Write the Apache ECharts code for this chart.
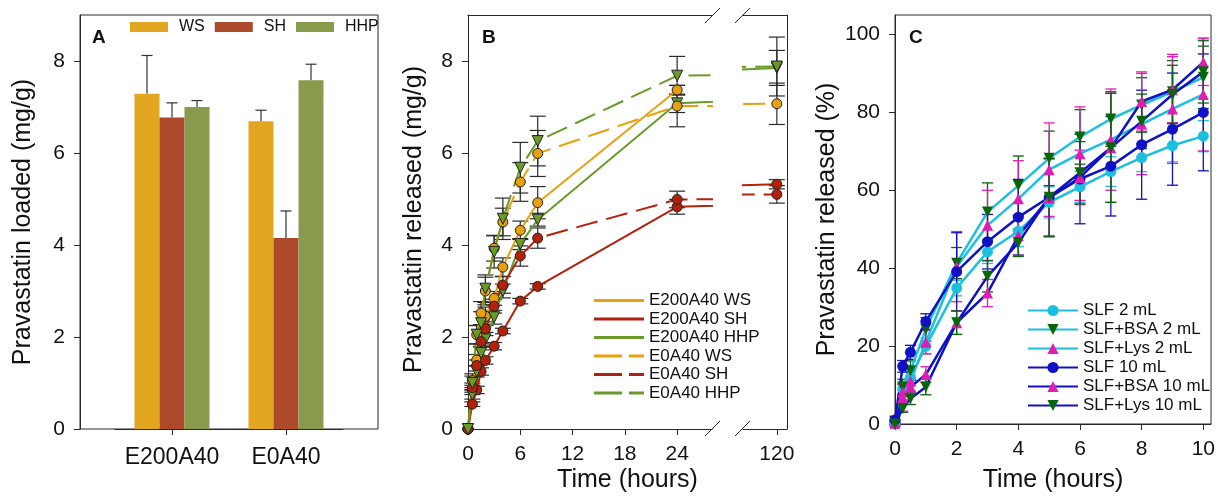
<!DOCTYPE html>
<html lang="en">
<head>
<meta charset="UTF-8">
<title>Pravastatin loading and release</title>
<style>
    *{
        margin: 0;
        padding: 0;
    }
    body{
        background-color: #fff;
    }
    #chart{
        width: 1218px;
        height: 498px;
    }
</style>
</head>
<body>
<div id="chart"></div>
<script src="https://cdn.jsdelivr.net/npm/echarts@6.0.0/dist/echarts.min.js"></script>
<script type="text/javascript">
// ---- panel A : pravastatin loaded (mg/g)
var loadCats = ['E200A40', 'E0A40']
var loadNames = ['WS', 'SH', 'HHP']
var loadWS = [7.29, 6.69]
var loadSH = [6.77, 4.15]
var loadHHP = [7.0, 7.58]
var loadWSErr = [0.83, 0.24]
var loadSHErr = [0.32, 0.59]
var loadHHPErr = [0.14, 0.35]
var loadTicks = [0, 2, 4, 6, 8]

// ---- panel B : pravastatin released (mg/g), broken time axis
var relTime = [0, 0.5, 1, 1.5, 2, 3, 4, 6, 8, 24, 120]
var relTicksLeft = [0, 6, 12, 18, 24]
var relTicksRight = [120]
var relYTicks = [0, 2, 4, 6, 8]
var e200WS = [0, 0.85, 1.5, 2.0, 2.45, 2.84, 3.52, 4.32, 4.92, 7.37, null]
var e200SH = [0, 0.54, 0.85, 1.25, 1.49, 1.80, 2.13, 2.78, 3.10, 4.83, 5.32]
var e200HHP = [0, 0.75, 1.25, 1.65, 1.95, 2.43, 3.0, 4.02, 4.55, 7.08, 7.85]
var e0WS = [0, 1.05, 2.05, 2.52, 3.0, 3.93, 4.5, 5.37, 5.99, 7.02, 7.07]
var e0SH = [0, 0.9, 1.38, 1.9, 2.18, 2.67, 3.13, 3.76, 4.15, 4.99, 5.1]
var e0HHP = [0, 1.0, 2.05, 2.3, 3.05, 3.85, 4.57, 5.68, 6.26, 7.68, 7.88]
var e200WSErr = [0, 0.1, 0.12, 0.15, 0.2, 0.15, 0.2, 0.2, 0.35, 0.1, 0]
var e200SHErr = [0, 0.05, 0.08, 0.08, 0.08, 0.08, 0.06, 0.06, 0.06, 0.16, 0.1]
var e200HHPErr = [0, 0.1, 0.12, 0.15, 0.15, 0.15, 0.15, 0.12, 0.14, 0.2, 0.38]
var e0WSErr = [0, 0.15, 0.2, 0.25, 0.3, 0.28, 0.3, 0.42, 0.5, 0.45, 0.45]
var e0SHErr = [0, 0.1, 0.12, 0.12, 0.15, 0.15, 0.18, 0.22, 0.22, 0.18, 0.19]
var e0HHPErr = [0, 0.15, 0.2, 0.25, 0.3, 0.35, 0.45, 0.55, 0.54, 0.42, 0.64]

// ---- panel C : pravastatin released (%)
var cTime = [0, 0.25, 0.5, 1, 2, 3, 4, 5, 6, 7, 8, 9, 10]
var cXTicks = [0, 2, 4, 6, 8, 10]
var cYTicks = [0, 20, 40, 60, 80, 100]
var slf2 = [0, 9, 12, 20, 34.9, 44.2, 49.5, 56.9, 60.9, 64.8, 68.4, 71.5, 73.9]
var bsa2 = [0.5, 9.5, 13.7, 24.3, 41.3, 54.4, 61.2, 68.2, 73.7, 78.3, 81.9, 85.3, 89.0]
var lys2 = [0.3, 8.2, 11, 21, 40.4, 51.0, 57.8, 65.3, 69.4, 73.0, 77.0, 80.9, 84.6]
var slf10 = [1, 14.8, 18.4, 26.3, 39.1, 46.8, 53.1, 58.2, 62.9, 66.2, 71.7, 75.7, 80.0]
var bsa10 = [0.2, 6.8, 9.5, 12.7, 26, 33.6, 48.3, 58, 63.3, 70.9, 82.8, 85.8, 92.9]
var lys10 = [0, 4.0, 6.5, 9.5, 26, 37.9, 46.5, 58.2, 64.5, 70.9, 77.7, 84.6, 90.4]
var slf2Err = [0.5, 1.5, 2, 2, 2, 3, 4, 4, 4, 3.8, 3.6, 4.2, 4]
var bsa2Err = [0.5, 2, 2.5, 3, 4, 7.5, 7.6, 7, 7, 7, 7, 8, 8]
var lys2Err = [0.5, 2, 2.5, 3, 9, 9, 9.8, 12, 12, 13, 13, 14, 14.5]
var slf10Err = [1, 1.5, 1.8, 2, 10, 7, 9.7, 10, 11.5, 12.8, 14, 14.4, 15]
var bsa10Err = [0.5, 3.5, 2, 2, 3, 3.5, 5, 10, 7, 14, 7.6, 8.5, 6]
var lys10Err = [0.5, 1, 1.5, 2, 3, 4, 3.5, 10, 8, 14, 7, 7.5, 8]

var FONT = '"Liberation Sans", Arial, sans-serif'
var AX = '#2a2a2a'

var orange = '#E8A00E', red = '#B3200C', green = '#6A9A28'
var cyan = '#1DBFDF', blue = '#1010C4', dkgreen = '#07650A', magenta = '#E01DB3'

// error bar drawer (custom series)
function errSeries(data, xIdx, yIdx, color, half, upOnly, offset, width) {
    return {
        type: 'custom',
        xAxisIndex: xIdx,
        yAxisIndex: yIdx,
        data: data,
        z: 2,
        silent: true,
        renderItem: function (params, api) {
            var e = api.value(2)
            if (!(e > 0)) return null
            var p0 = api.coord([api.value(0), api.value(1)])
            var pt = api.coord([api.value(0), api.value(1) + e])
            var pb = api.coord([api.value(0), api.value(1) - e])
            var x = p0[0] + offset
            var st = {stroke: color, lineWidth: width}
            var kids = [
                {type: 'line', shape: {x1: x, y1: upOnly ? p0[1] : pb[1], x2: x, y2: pt[1]}, style: st},
                {type: 'line', shape: {x1: x - half, y1: pt[1], x2: x + half, y2: pt[1]}, style: st}
            ]
            if (!upOnly) {
                kids.push({type: 'line', shape: {x1: x - half, y1: pb[1], x2: x + half, y2: pb[1]}, style: st})
            }
            return {type: 'group', children: kids}
        }
    }
}

function pairs(ts, vals, errs, test) {
    var out = []
    ts.forEach(function (t, i) {
        if (vals[i] === null) return
        if (test && !test(t)) return
        out.push(errs ? [t, vals[i], errs[i]] : [t, vals[i]])
    })
    return out
}

var series = []

// panel A bars
var loadVals = [loadWS, loadSH, loadHHP]
var loadErrs = [loadWSErr, loadSHErr, loadHHPErr]
var loadColors = ['#E2A620', '#AD4A2B', '#889A4C']
loadNames.forEach(function (n, k) {
    series.push({
        type: 'bar', name: n, xAxisIndex: 1, yAxisIndex: 1,
        data: loadVals[k], barWidth: 25, barGap: '0%',
        itemStyle: {color: loadColors[k]}, z: 2
    })
})
loadNames.forEach(function (n, k) {
    var d = loadVals[k].map(function (v, i) { return [i, v, loadErrs[k][i]] })
    series.push(errSeries(d, 1, 1, '#333', 5.5, true, (k - 1) * 25, 1.2))
})

// panel B lines, drawn in the left and the right piece of the broken axis
var bList = [
    {name: 'E200A40 WS', v: e200WS, e: e200WSErr, c: orange, dash: false, sym: 'circle'},
    {name: 'E200A40 SH', v: e200SH, e: e200SHErr, c: red, dash: false, sym: 'circle'},
    {name: 'E200A40 HHP', v: e200HHP, e: e200HHPErr, c: green, dash: false, sym: 'triangle'},
    {name: 'E0A40 WS', v: e0WS, e: e0WSErr, c: orange, dash: true, sym: 'circle'},
    {name: 'E0A40 SH', v: e0SH, e: e0SHErr, c: red, dash: true, sym: 'circle'},
    {name: 'E0A40 HHP', v: e0HHP, e: e0HHPErr, c: green, dash: true, sym: 'triangle'}
]
var pieces = [
    {x: 3, y: 3, test: function (t) { return t <= 28 }},
    {x: 5, y: 4, test: function (t) { return t >= 116 }}
]
pieces.forEach(function (p) {
    bList.forEach(function (s) {
        series.push(errSeries(pairs(relTime, s.v, s.e, p.test), p.x, p.y, '#2b2b2b', 8, false, 0, 1.2))
    })
    bList.forEach(function (s) {
        series.push({
            type: 'line', name: s.name, xAxisIndex: p.x, yAxisIndex: p.y,
            data: pairs(relTime, s.v),
            clip: true,
            symbol: s.sym,
            symbolSize: s.sym === 'triangle' ? 11 : 10,
            symbolRotate: s.sym === 'triangle' ? 180 : 0,
            lineStyle: {color: s.c, width: 2, type: s.dash ? [22, 9] : 'solid'},
            itemStyle: {color: s.c, borderColor: '#222', borderWidth: 1},
            z: 3
        })
    })
})

// panel C lines
var cList = [
    {name: 'SLF 2 mL', v: slf2, e: slf2Err, line: cyan, mk: cyan, sym: 'circle', rot: 0},
    {name: 'SLF+BSA 2 mL', v: bsa2, e: bsa2Err, line: cyan, mk: dkgreen, sym: 'triangle', rot: 180},
    {name: 'SLF+Lys 2 mL', v: lys2, e: lys2Err, line: cyan, mk: magenta, sym: 'triangle', rot: 0},
    {name: 'SLF 10 mL', v: slf10, e: slf10Err, line: blue, mk: blue, sym: 'circle', rot: 0},
    {name: 'SLF+BSA 10 mL', v: bsa10, e: bsa10Err, line: blue, mk: magenta, sym: 'triangle', rot: 0},
    {name: 'SLF+Lys 10 mL', v: lys10, e: lys10Err, line: blue, mk: dkgreen, sym: 'triangle', rot: 180}
]
cList.forEach(function (s) {
    series.push(errSeries(pairs(cTime, s.v, s.e), 7, 5, s.mk, 5.5, false, 0, 1.3))
})
cList.forEach(function (s) {
    series.push({
        type: 'line', name: s.name, xAxisIndex: 7, yAxisIndex: 5,
        data: pairs(cTime, s.v),
        symbol: s.sym, symbolSize: 11, symbolRotate: s.rot,
        lineStyle: {color: s.line, width: 2.5},
        itemStyle: {color: s.mk},
        z: 3
    })
})

var tickLbl = {color: '#111', fontSize: 21, fontFamily: FONT}
var nameTxt = {color: '#111', fontSize: 25, fontFamily: FONT}
var hidden = {axisLine: {show: false}, axisTick: {show: false}, axisLabel: {show: false}, splitLine: {show: false}}

function frameAxis(extra) {
    var o = {
        type: 'value',
        axisLine: {show: true, lineStyle: {color: AX, width: 1}},
        splitLine: {show: false},
        axisTick: {show: true, inside: false, length: 6, lineStyle: {color: AX}},
        axisLabel: {show: true}
    }
    for (var k in extra) o[k] = extra[k]
    return o
}

var options = {
    animation: false,
    backgroundColor: '#fff',
    textStyle: {fontFamily: FONT},
    title: [
        {text: 'A', left: 92, top: 28, padding: 0, textStyle: {fontSize: 19, fontWeight: 'bold', color: '#111', fontFamily: FONT}},
        {text: 'B', left: 482, top: 28, padding: 0, textStyle: {fontSize: 19, fontWeight: 'bold', color: '#111', fontFamily: FONT}},
        {text: 'C', left: 909, top: 28, padding: 0, textStyle: {fontSize: 19, fontWeight: 'bold', color: '#111', fontFamily: FONT}}
    ],
    legend: [
        {
            data: loadNames, left: 125, top: 14, orient: 'horizontal',
            icon: 'rect', itemWidth: 38, itemHeight: 10, itemGap: 10,
            itemStyle: {borderWidth: 0},
            textStyle: {fontSize: 16, color: '#111', padding: [0, 0, 0, 6]}
        },
        {
            data: bList.map(function (s) {
                return {name: s.name, icon: s.dash ? 'path://M0,0H28V3H0ZM35,0H50V3H35Z' : 'rect'}
            }),
            left: 589, top: 287, orient: 'vertical',
            itemWidth: 50, itemHeight: 3, itemGap: 1.5,
            itemStyle: {borderWidth: 0},
            textStyle: {fontSize: 17, color: '#111'}
        },
        {
            data: cList.map(function (s) { return s.name }),
            left: 1022, top: 297, orient: 'vertical',
            itemWidth: 50, itemHeight: 14, itemGap: 2,
            textStyle: {fontSize: 17, color: '#111'}
        }
    ],
    grid: [
        {left: 80, top: 15, width: 298, height: 414, show: true, borderColor: AX, borderWidth: 1, backgroundColor: 'transparent'},
        {left: 115, top: 15, width: 228, height: 414},
        {left: 468, top: 15, width: 319, height: 414},
        {left: 468, top: 15, width: 244, height: 414},
        {left: 743, top: 15, width: 44, height: 414},
        {left: 895, top: 15, width: 320, height: 414, show: true, borderColor: AX, borderWidth: 1, backgroundColor: 'transparent'}
    ],
    xAxis: [
        // 0 A frame
        {type: 'value', gridIndex: 0, min: 0, max: 1, show: false},
        // 1 A categories
        {
            type: 'category', gridIndex: 1, data: loadCats,
            axisLine: {show: true, lineStyle: {color: AX}},
            axisTick: {show: true, alignWithLabel: true, length: 6, lineStyle: {color: AX}},
            axisLabel: {color: '#111', fontSize: 23, margin: 17, interval: 0, fontFamily: FONT}
        },
        // 2 B frame, only carries the name
        Object.assign({type: 'value', gridIndex: 2, min: 0, max: 1, name: 'Time (hours)', nameLocation: 'middle', nameGap: 44, nameTextStyle: nameTxt}, hidden),
        // 3 B left bottom
        frameAxis({gridIndex: 3, min: 0, max: 28, position: 'bottom',
            axisTick: {show: true, length: 6, customValues: relTicksLeft, lineStyle: {color: AX}},
            axisLabel: Object.assign({customValues: relTicksLeft, margin: 15}, tickLbl)}),
        // 4 B left top
        frameAxis({gridIndex: 3, min: 0, max: 28, position: 'top', axisTick: {show: false}, axisLabel: {show: false}}),
        // 5 B right bottom
        frameAxis({gridIndex: 4, min: 116, max: 121.2, position: 'bottom',
            axisTick: {show: true, length: 6, customValues: relTicksRight, lineStyle: {color: AX}},
            axisLabel: Object.assign({customValues: relTicksRight, margin: 15}, tickLbl)}),
        // 6 B right top
        frameAxis({gridIndex: 4, min: 116, max: 121.2, position: 'top', axisTick: {show: false}, axisLabel: {show: false}}),
        // 7 C
        frameAxis({gridIndex: 5, min: 0, max: 10.25, name: 'Time (hours)', nameLocation: 'middle', nameGap: 44, nameTextStyle: nameTxt,
            axisTick: {show: true, length: 6, customValues: cXTicks, lineStyle: {color: AX}},
            axisLabel: Object.assign({customValues: cXTicks, margin: 15}, tickLbl)})
    ],
    yAxis: [
        // 0 A frame
        frameAxis({gridIndex: 0, min: 0, max: 9, name: 'Pravastatin loaded (mg/g)', nameLocation: 'middle', nameGap: 44, nameTextStyle: nameTxt,
            axisTick: {show: true, length: 6, customValues: loadTicks, lineStyle: {color: AX}},
            axisLabel: Object.assign({customValues: loadTicks, margin: 15}, tickLbl)}),
        // 1 A bars
        Object.assign({type: 'value', gridIndex: 1, min: 0, max: 9}, hidden),
        // 2 B frame name
        Object.assign({type: 'value', gridIndex: 2, min: 0, max: 9, name: 'Pravastatin released (mg/g)', nameLocation: 'middle', nameGap: 41, nameTextStyle: nameTxt}, hidden),
        // 3 B left
        frameAxis({gridIndex: 3, min: 0, max: 9,
            axisTick: {show: true, length: 6, customValues: relYTicks, lineStyle: {color: AX}},
            axisLabel: Object.assign({customValues: relYTicks, margin: 15}, tickLbl)}),
        // 4 B right
        frameAxis({gridIndex: 4, min: 0, max: 9, position: 'right', axisTick: {show: false}, axisLabel: {show: false}}),
        // 5 C
        frameAxis({gridIndex: 5, min: 0, max: 105, name: 'Pravastatin released (%)', nameLocation: 'middle', nameGap: 55, nameTextStyle: nameTxt,
            axisTick: {show: true, length: 6, customValues: cYTicks, lineStyle: {color: AX}},
            axisLabel: Object.assign({customValues: cYTicks, margin: 15}, tickLbl)})
    ],
    // break marks of the time axis in panel B
    graphic: [
        {type: 'line', shape: {x1: 705, y1: 436, x2: 720, y2: 421}, style: {stroke: AX, lineWidth: 1}},
        {type: 'line', shape: {x1: 735, y1: 436, x2: 750, y2: 421}, style: {stroke: AX, lineWidth: 1}},
        {type: 'line', shape: {x1: 705, y1: 23, x2: 720, y2: 8}, style: {stroke: AX, lineWidth: 1}},
        {type: 'line', shape: {x1: 735, y1: 23, x2: 750, y2: 8}, style: {stroke: AX, lineWidth: 1}}
    ],
    series: series
}

var chartOne = echarts.init(document.getElementById('chart'), null, {renderer: 'canvas'})
chartOne.setOption(options)
</script>
</body>
</html>
